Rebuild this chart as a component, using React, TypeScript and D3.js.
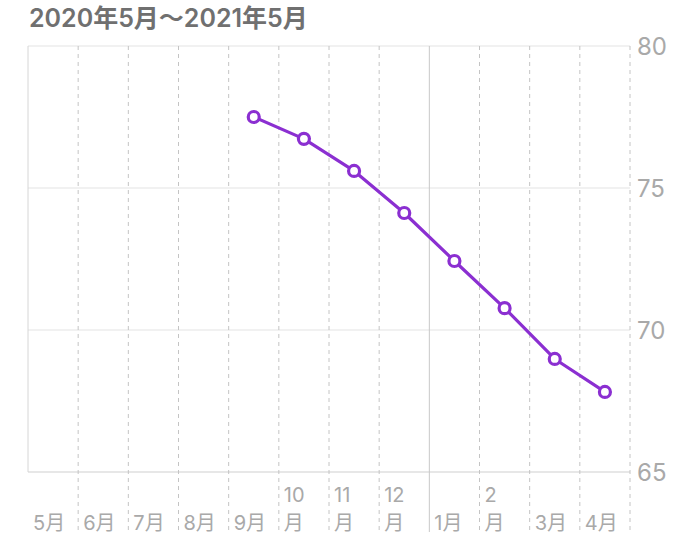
import React from "react";
import * as d3 from "d3";

const title = "2020年5月〜2021年5月";
const monthLabels: string[][] = [
  ["5月"], ["6月"], ["7月"], ["8月"], ["9月"], ["10", "月"], ["11", "月"], ["12", "月"],
  ["1月"], ["2", "月"], ["3月"], ["4月"],
];
const pointMonthIndex = [4, 5, 6, 7, 8, 9, 10, 11];
const values = [77.5, 76.73, 75.6, 74.12, 72.43, 70.77, 68.98, 67.82];
const yTicks = [65, 70, 75, 80];

const W = 679;
const H = 555;
const left = 28;
const right = 630;
const top = 46;
const bottom = 472;
const purple = "#8b2fd1";
const font = "Inter, 'Noto Sans CJK JP', sans-serif";

export default function App() {
  const x = d3.scaleLinear().domain([0, 12]).range([left, right]);
  const y = d3.scaleLinear().domain([65, 80]).range([bottom, top]);
  const pts = values.map((v, i) => [x(pointMonthIndex[i] + 0.5), y(v)] as [number, number]);
  const line = d3.line()(pts) || "";
  const bounds = d3.range(1, 13);
  return (
    <svg width={W} height={H} style={{ position: "absolute", left: 0, top: 0, background: "#fff" }}>
      <text x={29} y={27} fontFamily={font} fontWeight={600} fontSize={25} fill="#707070">{title}</text>
      {yTicks.map((t) => (
        <line key={"h" + t} x1={left} x2={right} y1={y(t)} y2={y(t)} stroke={t === 65 ? "#cfcfcf" : "#e3e3e3"} strokeWidth={1} />
      ))}
      <line x1={left} x2={left} y1={top} y2={bottom} stroke="#d6d6d6" strokeWidth={1} />
      {bounds.map((b) => (
        <line
          key={"v" + b}
          x1={x(b)}
          x2={x(b)}
          y1={top}
          y2={532}
          stroke={b === 8 ? "#c8c8c8" : "#c4c4c4"}
          strokeWidth={1}
          strokeDasharray={b === 8 ? undefined : "4,4"}
        />
      ))}
      {monthLabels.map((lines, i) => (
        <text key={"m" + i} x={x(i) + 5} fontFamily={font} fontSize={20} fill="#a9a9a9">
          {lines.map((l, j) => (
            <tspan key={j} x={x(i) + 5} y={530 - (lines.length - 1 - j) * 28}>{l}</tspan>
          ))}
        </text>
      ))}
      {yTicks.map((t) => (
        <text key={"y" + t} x={637} y={y(t) + 9} fontFamily={font} fontSize={24} fill="#a9a9a9">{t}</text>
      ))}
      <path d={line} fill="none" stroke={purple} strokeWidth={3.2} strokeLinejoin="round" />
      {pts.map((p, i) => (
        <circle key={"c" + i} cx={p[0]} cy={p[1]} r={5.5} fill="#fff" stroke={purple} strokeWidth={3.2} />
      ))}
    </svg>
  );
}
